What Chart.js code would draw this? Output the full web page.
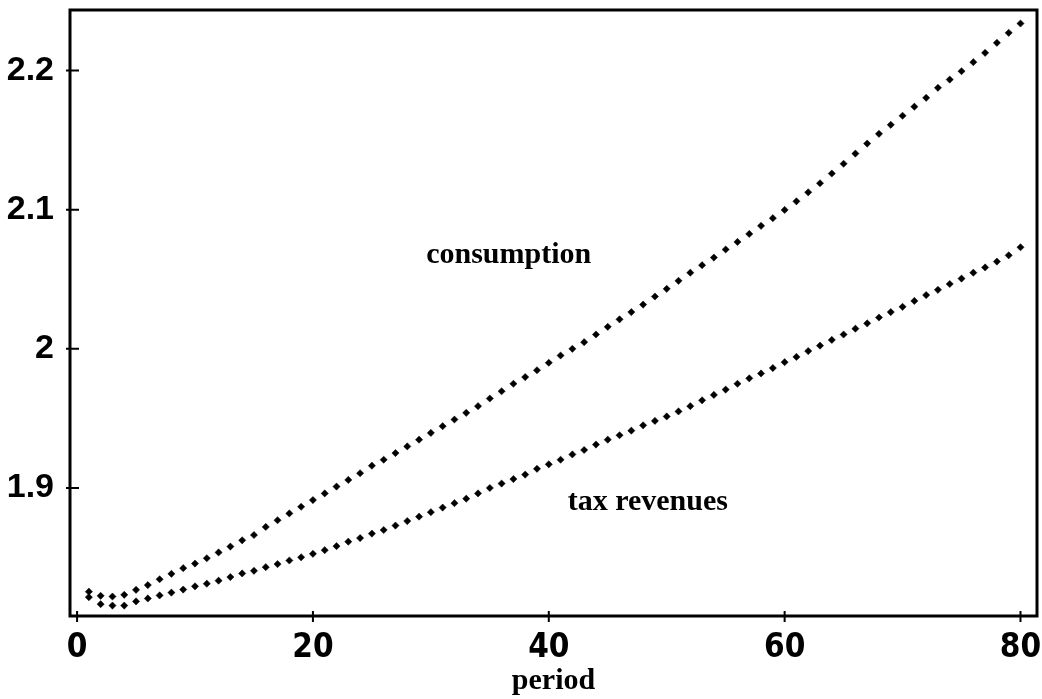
<!DOCTYPE html>
<html>
<head>
<meta charset="utf-8">
<script src="https://cdn.jsdelivr.net/npm/chart.js@4.4.1/dist/chart.umd.min.js"></script>
<style>
  body { margin: 0; background: #fff; }
</style>
</head>
<body>
<canvas id="chart" width="1042" height="699"></canvas>
<script>
let periods = [
  1, 2, 3, 4, 5, 6, 7, 8, 9, 10, 11, 12, 13, 14, 15, 16, 17, 18, 19, 20,
  21, 22, 23, 24, 25, 26, 27, 28, 29, 30, 31, 32, 33, 34, 35, 36, 37, 38, 39, 40,
  41, 42, 43, 44, 45, 46, 47, 48, 49, 50, 51, 52, 53, 54, 55, 56, 57, 58, 59, 60,
  61, 62, 63, 64, 65, 66, 67, 68, 69, 70, 71, 72, 73, 74, 75, 76, 77, 78, 79, 80,
]

let consumption = [
  1.8255, 1.8225, 1.8220, 1.8232, 1.8268, 1.8302, 1.8344, 1.8383, 1.8424, 1.8457,
  1.8495, 1.8537, 1.8579, 1.8624, 1.8662, 1.8720, 1.8768, 1.8817, 1.8865, 1.8913,
  1.8961, 1.9010, 1.9058, 1.9106, 1.9160, 1.9203, 1.9251, 1.9299, 1.9347, 1.9396,
  1.9444, 1.9492, 1.9540, 1.9588, 1.9643, 1.9695, 1.9749, 1.9797, 1.9846, 1.9900,
  1.9952, 2.0000, 2.0048, 2.0103, 2.0158, 2.0212, 2.0264, 2.0318, 2.0376, 2.0431,
  2.0489, 2.0547, 2.0601, 2.0656, 2.0714, 2.0768, 2.0826, 2.0884, 2.0939, 2.0998,
  2.1060, 2.1125, 2.1190, 2.1260, 2.1330, 2.1403, 2.1475, 2.1545, 2.1610, 2.1675,
  2.1740, 2.1804, 2.1876, 2.1935, 2.1995, 2.2060, 2.2127, 2.2199, 2.2271, 2.2338,
]

let taxRevenues = [
  1.8215, 1.8165, 1.8155, 1.8155, 1.8185, 1.8206, 1.8228, 1.8248, 1.8270, 1.8293,
  1.8312, 1.8334, 1.8360, 1.8386, 1.8405, 1.8431, 1.8453, 1.8479, 1.8502, 1.8527,
  1.8553, 1.8582, 1.8614, 1.8640, 1.8672, 1.8698, 1.8730, 1.8762, 1.8794, 1.8826,
  1.8859, 1.8891, 1.8923, 1.8961, 1.9000, 1.9032, 1.9064, 1.9096, 1.9138, 1.9170,
  1.9203, 1.9241, 1.9273, 1.9312, 1.9347, 1.9379, 1.9412, 1.9450, 1.9482, 1.9514,
  1.9550, 1.9588, 1.9630, 1.9669, 1.9707, 1.9749, 1.9788, 1.9823, 1.9862, 1.9904,
  1.9942, 1.9984, 2.0023, 2.0064, 2.0103, 2.0145, 2.0183, 2.0225, 2.0264, 2.0302,
  2.0344, 2.0386, 2.0424, 2.0466, 2.0505, 2.0547, 2.0585, 2.0627, 2.0672, 2.0730,
]

let xTicks = [0, 20, 40, 60, 80]
let yTicks = [1.9, 2, 2.1, 2.2]
let yTickLabels = ['1.9', '2', '2.1', '2.2']

// in-plot labels, placed in data coordinates
let seriesLabels = [
  { text: 'consumption', x: 36.6, y: 2.067 },
  { text: 'tax revenues', x: 48.4, y: 1.890 },
]

let toPoints = (ys) => periods.map((p, i) => ({ x: p, y: ys[i] }))

let frameAndTicks = {
  id: 'frameAndTicks',
  afterDraw(chart) {
    let ctx = chart.ctx
    let a = chart.chartArea
    let xs = chart.scales.x
    let ys = chart.scales.y
    ctx.save()
    ctx.strokeStyle = '#000'
    ctx.lineWidth = 3
    ctx.strokeRect(a.left, a.top, a.right - a.left, a.bottom - a.top)
    ctx.lineWidth = 2
    ctx.beginPath()
    yTicks.forEach((v) => {
      let py = ys.getPixelForValue(v)
      ctx.moveTo(a.left - 4, py)
      ctx.lineTo(a.left + 9, py)
    })
    xTicks.forEach((v) => {
      let px = xs.getPixelForValue(v)
      ctx.moveTo(px, a.bottom - 5)
      ctx.lineTo(px, a.bottom + 6)
    })
    ctx.stroke()

    ctx.fillStyle = '#000'
    ctx.font = 'bold 30px "Liberation Serif", "Times New Roman", serif'
    ctx.textAlign = 'center'
    ctx.textBaseline = 'middle'
    seriesLabels.forEach((l) => {
      ctx.fillText(l.text, xs.getPixelForValue(l.x), ys.getPixelForValue(l.y))
    })
    ctx.restore()
  },
}

let markerStyle = {
  showLine: false,
  pointStyle: 'rectRot',
  pointRadius: 3.6,
  pointBackgroundColor: '#000',
  pointBorderColor: '#000',
  pointBorderWidth: 0.5,
}

let chart = new Chart(document.getElementById('chart'), {
  type: 'scatter',
  data: {
    datasets: [
      Object.assign({ label: 'consumption', data: toPoints(consumption) }, markerStyle),
      Object.assign({ label: 'tax revenues', data: toPoints(taxRevenues) }, markerStyle),
    ],
  },
  options: {
    responsive: false,
    animation: false,
    devicePixelRatio: 1,
    layout: { padding: { left: 0, top: 10, right: 5, bottom: 0 } },
    plugins: {
      legend: { display: false },
      tooltip: { enabled: false },
    },
    scales: {
      x: {
        type: 'linear',
        min: -0.6,
        max: 81.4,
        grid: { display: false },
        border: { display: false },
        afterBuildTicks: (scale) => {
          scale.ticks = xTicks.map((v) => ({ value: v }))
        },
        afterFit: (scale) => {
          scale.height = 83
          scale.paddingLeft = 0
          scale.paddingRight = 0
        },
        ticks: {
          color: '#000',
          padding: 5,
          maxRotation: 0,
          font: { family: '"DejaVu Sans Condensed", "Liberation Sans Narrow", sans-serif', size: 33, weight: 'bold' },
          callback: (v) => String(v),
        },
        title: {
          display: true,
          text: 'period',
          color: '#000',
          padding: { top: 0, bottom: 0 },
          font: { family: '"Liberation Serif", "Times New Roman", serif', size: 30, weight: 'bold' },
        },
      },
      y: {
        type: 'linear',
        min: 1.808,
        max: 2.2435,
        grid: { display: false },
        border: { display: false },
        afterBuildTicks: (scale) => {
          scale.ticks = yTicks.map((v) => ({ value: v }))
        },
        afterFit: (scale) => {
          scale.width = 70
          scale.paddingTop = 0
          scale.paddingBottom = 0
        },
        ticks: {
          color: '#000',
          padding: 8,
          font: { family: '"Liberation Sans", Arial, sans-serif', size: 34, weight: 'bold' },
          callback: (v) => yTickLabels[yTicks.indexOf(v)],
        },
      },
    },
  },
  plugins: [frameAndTicks],
})
</script>
</body>
</html>
